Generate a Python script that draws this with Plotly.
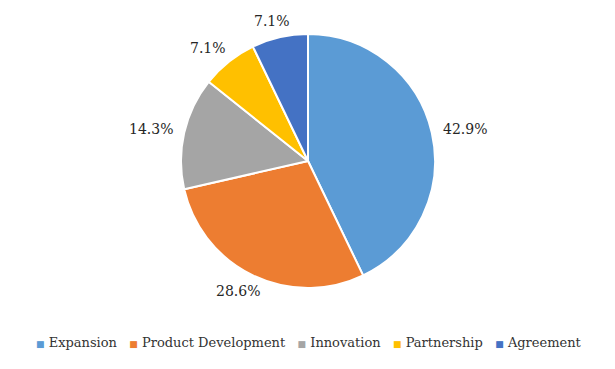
import numpy as np
import plotly.graph_objects as go

categories = ["Expansion", "Product Development", "Innovation", "Partnership", "Agreement"]
values = [6, 4, 2, 1, 1]
colors = ["#5B9BD5", "#ED7D31", "#A5A5A5", "#FFC000", "#4472C4"]

OFF = 8  # page body margin
W, H = 615 - OFF, 369 - OFF
cx, cy, r = 308 - OFF, 161 - OFF, 127  # pixel center/radius of pie (figure coords)
FONT = "DejaVu Serif"

fig = go.Figure(go.Pie(
    labels=categories, values=values, sort=False, direction="clockwise", rotation=0,
    marker=dict(colors=colors, line=dict(color="white", width=2)),
    textinfo="none", hoverinfo="label+percent", showlegend=False,
    domain=dict(x=[(cx - r) / W, (cx + r) / W], y=[1 - (cy + r) / H, 1 - (cy - r) / H]),
))

# outside percentage labels computed from data
vals = np.array(values, dtype=float)
pct = vals / vals.sum() * 100
cum = np.cumsum(vals) - vals / 2
mid_deg = cum / vals.sum() * 360.0  # clockwise from top
RX, RY = 161, 144
for p, a in zip(pct, mid_deg):
    th = np.deg2rad(90 - a)
    px = cx + RX * np.cos(th)
    py = cy - RY * np.sin(th)
    fig.add_annotation(x=px / W, y=1 - py / H, xref="paper", yref="paper",
                       text=f"{p:.1f}%", showarrow=False, xanchor="center", yanchor="middle",
                       font=dict(family=FONT, size=14, color="#262626"))

# legend row
NB = "\u00a0"
items = [f"<span style='font-size:9px;color:{c}'>■</span>{NB}{lab}" for lab, c in zip(categories, colors)]
legend_text = (NB * 3).join(items)
fig.add_annotation(x=(309 - OFF) / W, y=1 - (342 - OFF) / H, xref="paper", yref="paper",
                   text=legend_text, showarrow=False, xanchor="center", yanchor="middle",
                   font=dict(family=FONT, size=13, color="#333333"))

fig.update_layout(
    width=W, height=H, margin=dict(l=0, r=0, t=0, b=0),
    paper_bgcolor="white", plot_bgcolor="white",
    font=dict(family=FONT, size=13, color="#333333"),
)
fig.write_html("out.html")
